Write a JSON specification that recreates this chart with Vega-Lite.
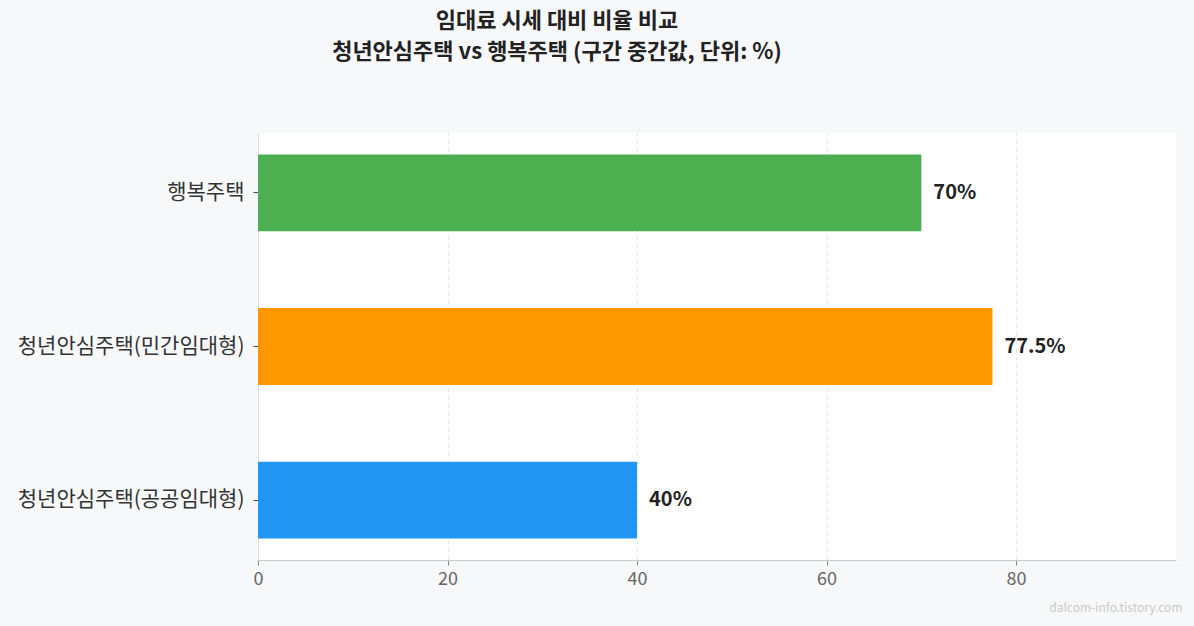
{
  "$schema": "https://vega.github.io/schema/vega-lite/v6.json",
  "autosize": {"type": "none"},
  "width": 918,
  "height": 427,
  "padding": {"left": 258, "top": 133, "right": 18, "bottom": 66},
  "background": "#f7f8fa",
  "title": {
    "text": ["임대료 시세 대비 비율 비교", "청년안심주택 vs 행복주택 (구간 중간값, 단위: %)"],
    "font": "Noto Sans CJK KR",
    "fontSize": 22,
    "fontWeight": "bold",
    "color": "#222222",
    "anchor": "middle",
    "dx": -160,
    "offset": 69,
    "lineHeight": 31
  },
  "config": {
    "view": {"fill": "white", "stroke": null},
    "font": "Noto Sans CJK KR"
  },
  "data": {
    "values": [
      {"type": "행복주택", "ratio": 70, "label": "70%"},
      {"type": "청년안심주택(민간임대형)", "ratio": 77.5, "label": "77.5%"},
      {"type": "청년안심주택(공공임대형)", "ratio": 40, "label": "40%"}
    ]
  },
  "encoding": {
    "y": {
      "field": "type",
      "type": "nominal",
      "sort": ["행복주택", "청년안심주택(민간임대형)", "청년안심주택(공공임대형)"],
      "scale": {"paddingInner": 0.5, "paddingOuter": 0.14},
      "axis": {
        "title": null,
        "domainColor": "#dddddd",
        "tickColor": "#444444",
        "tickSize": 5,
        "labelFontSize": 21,
        "labelColor": "#333333",
        "labelPadding": 9,
        "labelLimit": 0,
        "grid": false
      }
    },
    "x": {
      "field": "ratio",
      "type": "quantitative",
      "scale": {"domain": [0, 96.875], "nice": false},
      "axis": {
        "values": [0, 20, 40, 60, 80],
        "format": "d",
        "domainColor": "#cccccc",
        "tickColor": "#888888",
        "tickSize": 5,
        "labelColor": "#666666",
        "labelFontSize": 18,
        "labelPadding": 5,
        "labelFlush": false,
        "grid": true,
        "gridDash": [4, 4],
        "gridColor": "#e6e6e6",
        "title": "dalcom-info.tistory.com",
        "titleColor": "#c8c8c8",
        "titleFontSize": 12,
        "titleFontWeight": "normal",
        "titleAnchor": "end",
        "titleAlign": "right",
        "titleBaseline": "middle",
        "titleX": 924,
        "titleY": 47
      }
    }
  },
  "layer": [
    {
      "mark": {"type": "bar"},
      "encoding": {
        "color": {
          "field": "type",
          "type": "nominal",
          "scale": {
            "domain": ["행복주택", "청년안심주택(민간임대형)", "청년안심주택(공공임대형)"],
            "range": ["#4caf50", "#ff9800", "#2196f3"]
          },
          "legend": null
        }
      }
    },
    {
      "mark": {"type": "text", "align": "left", "baseline": "middle", "dx": 12, "fontSize": 20, "fontWeight": "bold", "color": "#222222"},
      "encoding": {"text": {"field": "label", "type": "nominal"}}
    }
  ]
}
